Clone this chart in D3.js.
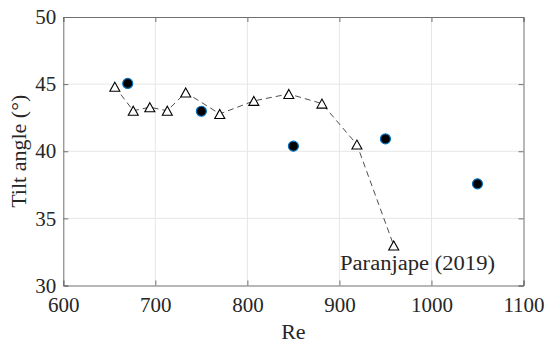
<!DOCTYPE html>
<html>
<head>
<meta charset="utf-8">
<script src="https://cdn.jsdelivr.net/npm/d3@7"></script>
<style>
  html, body { margin: 0; padding: 0; background: #fff; }
  svg { display: block; }
  text { font-family: "Liberation Serif", "Times New Roman", serif; fill: #262626; }
</style>
</head>
<body>
<svg id="chart" width="550" height="345"></svg>
<script>
// Data
const reCircle = [670, 750, 850, 950, 1050];
const tiltCircle = [45.05, 42.98, 40.38, 40.92, 37.57];
const reTri = [656, 676, 694, 713, 733, 770, 807, 845, 881, 919, 959];
const tiltTri = [44.81, 43.02, 43.28, 43.02, 44.38, 42.78, 43.75, 44.27, 43.55, 40.5, 32.98];
const xTicks = [600, 700, 800, 900, 1000, 1100];
const yTicks = [30, 35, 40, 45, 50];
const annotation = "Paranjape (2019)";

const svg = d3.select("#chart");
const L = 63.3, R = 523.5, T = 17, B = 285.5;
const x = d3.scaleLinear().domain([600, 1100]).range([L, R]);
const y = d3.scaleLinear().domain([30, 50]).range([B, T]);

// grid
const g = svg.append("g");
g.selectAll(".vg").data(xTicks.slice(1, -1)).enter().append("line")
  .attr("x1", d => x(d)).attr("x2", d => x(d)).attr("y1", T).attr("y2", B)
  .attr("stroke", "#e6e6e6").attr("stroke-width", 1);
g.selectAll(".hg").data(yTicks.slice(1, -1)).enter().append("line")
  .attr("x1", L).attr("x2", R).attr("y1", d => y(d)).attr("y2", d => y(d))
  .attr("stroke", "#e6e6e6").attr("stroke-width", 1);

// axes (inward ticks)
const axB = svg.append("g").attr("transform", `translate(0,${B})`)
  .call(d3.axisBottom(x).tickValues(xTicks).tickSize(-5).tickPadding(12).tickFormat(d3.format("d")));
const axT = svg.append("g").attr("transform", `translate(0,${T})`)
  .call(d3.axisTop(x).tickValues(xTicks).tickSize(-5).tickFormat(""));
const axL = svg.append("g").attr("transform", `translate(${L},0)`)
  .call(d3.axisLeft(y).tickValues(yTicks).tickSize(-5).tickPadding(7).tickFormat(d3.format("d")));
const axR = svg.append("g").attr("transform", `translate(${R},0)`)
  .call(d3.axisRight(y).tickValues(yTicks).tickSize(-5).tickFormat(""));
[axB, axT, axL, axR].forEach(a => {
  a.selectAll("path").attr("stroke", "#707070").attr("stroke-width", 1);
  a.selectAll("line").attr("stroke", "#707070").attr("stroke-width", 1);
  a.selectAll("text").style("font-family", "'Liberation Serif', serif").style("font-size", "21px").attr("fill", "#262626");
});
axB.selectAll("text").attr("dy", "0.71em");

// dashed line through triangles
const triData = reTri.map((r, i) => ({ r, t: tiltTri[i] }));
svg.append("path").datum(triData)
  .attr("d", d3.line().x(d => x(d.r)).y(d => y(d.t)))
  .attr("fill", "none").attr("stroke", "#222").attr("stroke-width", 0.8)
  .attr("stroke-dasharray", "6,4");

// triangles
const tw = 10, th = 9;
svg.selectAll(".tri").data(triData).enter().append("path")
  .attr("d", d => {
    const cx = x(d.r), cy = y(d.t);
    return `M${cx},${cy - th / 2}L${cx + tw / 2},${cy + th / 2}L${cx - tw / 2},${cy + th / 2}Z`;
  })
  .attr("fill", "#fff").attr("stroke", "#000").attr("stroke-width", 1.1);

// circles
svg.selectAll(".circ").data(reCircle.map((r, i) => ({ r, t: tiltCircle[i] }))).enter().append("circle")
  .attr("cx", d => x(d.r)).attr("cy", d => y(d.t)).attr("r", 5)
  .attr("fill", "#000").attr("stroke", "#0072BD").attr("stroke-width", 1.2);

// annotation
svg.append("text").attr("x", 340).attr("y", 270)
  .attr("textLength", 155).attr("lengthAdjust", "spacingAndGlyphs")
  .style("font-size", "20px").text(annotation);

// axis labels
svg.append("text").attr("x", (L + R) / 2).attr("y", 339).attr("text-anchor", "middle")
  .style("font-size", "22px").text("Re");
svg.append("text").attr("transform", `translate(26,${(T + B) / 2}) rotate(-90)`)
  .attr("text-anchor", "middle").style("font-size", "22px").text("Tilt angle (°)");
</script>
</body>
</html>
